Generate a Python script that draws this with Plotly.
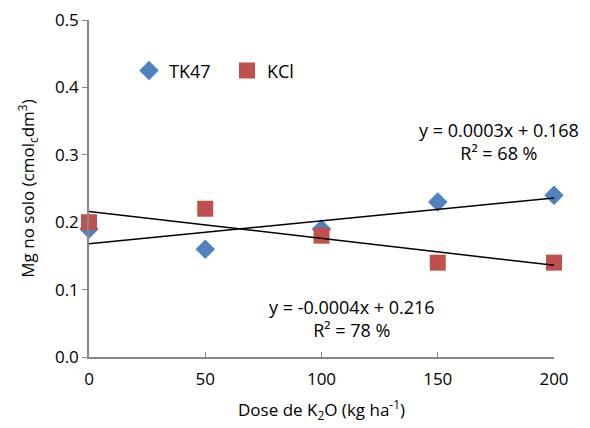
import numpy as np
import plotly.graph_objects as go

dose = [0, 50, 100, 150, 200]
tk47 = [0.19, 0.16, 0.19, 0.23, 0.24]
kcl = [0.20, 0.22, 0.18, 0.14, 0.14]
x_ticks = [0, 50, 100, 150, 200]
y_ticks = [0.0, 0.1, 0.2, 0.3, 0.4, 0.5]

FONT = "Open Sans"
FS = 17
fig = go.Figure()

fig.add_trace(go.Scatter(x=dose, y=tk47, mode="markers", name="TK47", cliponaxis=False,
                         marker=dict(symbol="diamond", size=15, color="#4F81BD")))
fig.add_trace(go.Scatter(x=dose, y=kcl, mode="markers", name="KCl", cliponaxis=False,
                         marker=dict(symbol="square", size=16, color="#C0504D")))

for ys in (tk47, kcl):
    m, b = np.polyfit(dose, ys, 1)
    xs = [min(dose), max(dose)]
    fig.add_trace(go.Scatter(x=xs, y=[m * v + b for v in xs], mode="lines",
                             line=dict(color="black", width=1.5), showlegend=False,
                             hoverinfo="skip", cliponaxis=False))

fig.add_annotation(x=200, y=0.319, xref="x", yref="y", xanchor="right", xshift=27,
                   text="y = 0.0003x + 0.168<br>R² = 68 %", showarrow=False,
                   align="center", font=dict(size=18, family=FONT, color="black"))
fig.add_annotation(x=113, y=0.057, xref="x", yref="y", xanchor="center",
                   text="y = -0.0004x + 0.216<br>R² = 78 %", showarrow=False,
                   align="center", font=dict(size=18, family=FONT, color="black"))

fig.update_layout(
    width=590, height=428,
    margin=dict(l=81, r=44, t=12, b=79),
    plot_bgcolor="white", paper_bgcolor="white",
    font=dict(family=FONT, size=FS, color="black"),
    legend=dict(orientation="h", x=0.086, y=0.849, xanchor="left", yanchor="middle",
                font=dict(size=18, family=FONT), bgcolor="rgba(0,0,0,0)",
                itemwidth=30, entrywidth=53, tracegroupgap=0),
    xaxis=dict(range=[0, 200], tickvals=x_ticks, showline=True, linecolor="#868686",
               linewidth=1.5, ticks="inside", ticklen=5, tickcolor="#868686",
               ticklabelstandoff=6, ticklabeloverflow="allow",
               showgrid=False, zeroline=False, automargin=False,
               title=dict(text="Dose de K<sub>2</sub>O (kg ha<sup>-1</sup>)", standoff=15,
                          font=dict(size=FS))),
    yaxis=dict(range=[0, 0.5], tickvals=y_ticks, tickformat=".1f", showline=True,
               linecolor="#868686", linewidth=1.5, ticks="outside", ticklen=5,
               tickcolor="#868686", showgrid=False, zeroline=False, automargin=False,
               ticklabeloverflow="allow",
               title=dict(text="Mg no solo (cmol<sub>c</sub>dm<sup>3</sup>)", standoff=16,
                          font=dict(size=FS))),
)

fig.write_html("out.html")
